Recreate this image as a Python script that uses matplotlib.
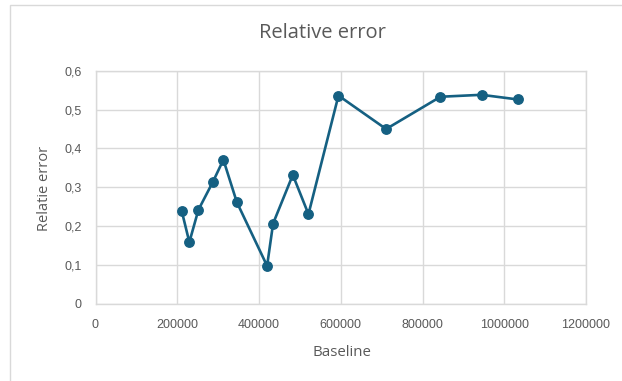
import matplotlib
matplotlib.use("Agg")
import matplotlib.pyplot as plt
from matplotlib.patches import Rectangle
from matplotlib.ticker import FuncFormatter

baseline = [211000, 229600, 251700, 287600, 312900, 345700, 419800, 434500,
            482700, 521000, 594400, 711000, 844000, 944400, 1033500]
rel_error = [0.239, 0.159, 0.242, 0.315, 0.371, 0.262, 0.098, 0.207,
             0.332, 0.231, 0.536, 0.450, 0.533, 0.538, 0.526]
x_ticks = [0, 200000, 400000, 600000, 800000, 1000000, 1200000]
y_ticks = [0, 0.1, 0.2, 0.3, 0.4, 0.5, 0.6]

W, H = 622, 381
fig = plt.figure(figsize=(W / 100, H / 100), dpi=100)
fig.patch.set_facecolor("white")

# chart border
fig.patches.append(Rectangle((10 / W, -0.1), 1.2, (1 - 4.5 / H) + 0.1,
                             transform=fig.transFigure, fill=False,
                             edgecolor="#d9d9d9", linewidth=1.0))

ax = fig.add_axes([95.5 / W, 1 - 304 / H, (586 - 95.5) / W, (304 - 70.7) / H])
line_color = "#156082"
ax.plot(baseline, rel_error, color=line_color, linewidth=1.9,
        marker="o", markersize=6.8, markerfacecolor=line_color,
        markeredgecolor=line_color, zorder=3, clip_on=False)

ax.set_xlim(0, 1200000)
ax.set_ylim(0, 0.6)
ax.set_xticks(x_ticks)
ax.set_yticks(y_ticks)
ax.xaxis.set_major_formatter(FuncFormatter(lambda v, p: f"{int(round(v))}"))
ax.yaxis.set_major_formatter(
    FuncFormatter(lambda v, p: "0" if abs(v) < 1e-9 else f"{v:.1f}".replace(".", ",")))

ax.grid(True, color="#d9d9d9", linewidth=1.0)
ax.set_axisbelow(True)
for s in ax.spines.values():
    s.set_color("#d9d9d9")
    s.set_linewidth(1.0)
ax.tick_params(length=0, colors="#595959", labelsize=9)
ax.tick_params(axis="x", pad=11)
ax.tick_params(axis="y", pad=10)
for lbl in ax.get_xticklabels() + ax.get_yticklabels():
    lbl.set_fontfamily("Liberation Sans")

fig.text(322 / W, 1 - 33 / H, "Relative error", ha="center", va="center",
         fontsize=14.5, color="#595959", family="Open Sans")
fig.text(342 / W, 1 - 352 / H, "Baseline", ha="center", va="center",
         fontsize=10.8, color="#595959", family="Open Sans")
fig.text(44 / W, 1 - 188 / H, "Relatie error", ha="center", va="center",
         rotation=90, fontsize=10.5, color="#595959", family="Open Sans")

fig.savefig("out.png", dpi=100, facecolor="white")
